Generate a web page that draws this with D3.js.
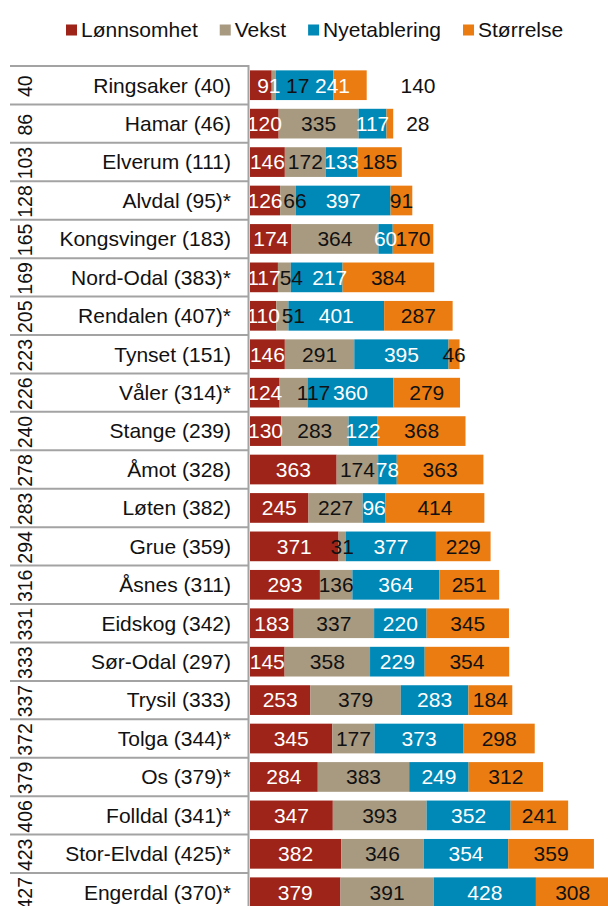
<!DOCTYPE html>
<html>
<head>
<meta charset="utf-8">
<script src="https://cdn.jsdelivr.net/npm/d3@7"></script>
<style>
  html, body { margin: 0; padding: 0; background: #fff; }
  svg { display: block; }
  text { font-family: "Liberation Sans", Arial, sans-serif; }
</style>
</head>
<body>
<div id="chart"></div>
<script>
// Municipalities (with rank in parentheses) and their overall position
const kommuner = [
  "Ringsaker (40)", "Hamar (46)", "Elverum (111)", "Alvdal (95)*", "Kongsvinger (183)",
  "Nord-Odal (383)*", "Rendalen (407)*", "Tynset (151)", "Våler (314)*", "Stange (239)",
  "Åmot (328)", "Løten (382)", "Grue (359)", "Åsnes (311)", "Eidskog (342)",
  "Sør-Odal (297)", "Trysil (333)", "Tolga (344)*", "Os (379)*", "Folldal (341)*",
  "Stor-Elvdal (425)*", "Engerdal (370)*"
];
const plassering = [40, 86, 103, 128, 165, 169, 205, 223, 226, 240, 278, 283, 294, 316, 331, 333, 337, 372, 379, 406, 423, 427];

// Series
const serier = ["Lønnsomhet", "Vekst", "Nyetablering", "Størrelse"];
const lonnsomhet   = [91, 120, 146, 126, 174, 117, 110, 146, 124, 130, 363, 245, 371, 293, 183, 145, 253, 345, 284, 347, 382, 379];
const vekst        = [17, 335, 172, 66, 364, 54, 51, 291, 117, 283, 174, 227, 31, 136, 337, 358, 379, 177, 383, 393, 346, 391];
const nyetablering = [241, 117, 133, 397, 60, 217, 401, 395, 360, 122, 78, 96, 377, 364, 220, 229, 283, 373, 249, 352, 354, 428];
const storrelse    = [140, 28, 185, 91, 170, 384, 287, 46, 279, 368, 363, 414, 229, 251, 345, 354, 184, 298, 312, 241, 359, 308];

// Styling
const farger = ["#9e2318", "#a89a81", "#0088b6", "#eb7c12"];
const tekstFarger = ["#ffffff", "#111111", "#ffffff", "#111111"];
// horizontal label nudges (px) where small segments crowd their labels
const labelNudge = {
  0: [8, 24, 28, 68],
  1: [0, 0, 0, 28],
  3: [0, 7, 0, 0],
  5: [0, 7, 13, 0],
  6: [0, 11, 0, 0],
  8: [0, 20, 0, 0]
};

const W = 608, H = 906;
const svg = d3.select("#chart").append("svg").attr("width", W).attr("height", H);

const rows = kommuner.map((k, i) => ({
  navn: k, plass: plassering[i], idx: i,
  verdier: [lonnsomhet[i], vekst[i], nyetablering[i], storrelse[i]]
}));

const step = 38.43;
const toppY = 66;
const y = d3.scaleBand()
  .domain(d3.range(rows.length))
  .range([toppY, toppY + step * rows.length])
  .paddingInner(0.227)
  .paddingOuter(0.1135);

const x = d3.scaleLinear().domain([0, 1500]).range([250, 608]);

const stack = d3.stack().keys(d3.range(4)).value((d, k) => d.verdier[k]);
const stacked = stack(rows);

// Bars
const g = svg.append("g");
stacked.forEach((layer, k) => {
  g.append("g").attr("fill", farger[k])
    .selectAll("rect").data(layer).join("rect")
    .attr("x", d => x(d[0]))
    .attr("y", (d, i) => y(i))
    .attr("width", d => x(d[1]) - x(d[0]))
    .attr("height", y.bandwidth());
});

// Value labels
stacked.forEach((layer, k) => {
  g.append("g")
    .selectAll("text").data(layer).join("text")
    .attr("x", (d, i) => (x(d[0]) + x(d[1])) / 2 + (labelNudge[i] ? labelNudge[i][k] : 0))
    .attr("y", (d, i) => y(i) + y.bandwidth() / 2)
    .attr("dy", "0.35em")
    .attr("text-anchor", "middle")
    .attr("font-size", 21)
    .attr("fill", tekstFarger[k])
    .text(d => d.data.verdier[k]);
});

// Label table on the left
const tabell = svg.append("g");
const linjeFarge = "#a3a3a3";
d3.range(rows.length + 1).forEach(i => {
  tabell.append("line")
    .attr("x1", 10).attr("x2", 249)
    .attr("y1", toppY + i * step).attr("y2", toppY + i * step)
    .attr("stroke", linjeFarge).attr("stroke-width", 2);
});
tabell.append("line")
  .attr("x1", 248.5).attr("x2", 248.5)
  .attr("y1", toppY - 1).attr("y2", H)
  .attr("stroke", linjeFarge).attr("stroke-width", 2);

const yMid = i => toppY + step * i + step / 2;

tabell.selectAll("text.navn").data(rows).join("text")
  .attr("class", "navn")
  .attr("x", 231)
  .attr("y", d => yMid(d.idx))
  .attr("dy", "0.35em")
  .attr("text-anchor", "end")
  .attr("font-size", 21)
  .attr("fill", "#111")
  .text(d => d.navn);

tabell.selectAll("text.plass").data(rows).join("text")
  .attr("class", "plass")
  .attr("transform", d => `translate(25,${yMid(d.idx) + 1}) rotate(-90)`)
  .attr("dy", "0.35em")
  .attr("text-anchor", "middle")
  .attr("font-size", 19.5)
  .attr("fill", "#111")
  .text(d => d.plass);

// Legend
const legend = svg.append("g");
let lx = 66;
serier.forEach((s, k) => {
  legend.append("rect")
    .attr("x", lx).attr("y", 24.5)
    .attr("width", 11).attr("height", 11)
    .attr("fill", farger[k]);
  const t = legend.append("text")
    .attr("x", lx + 15).attr("y", 37)
    .attr("font-size", 21)
    .attr("fill", "#111")
    .text(s);
  lx += 15 + t.node().getComputedTextLength() + 22;
});
</script>
</body>
</html>
